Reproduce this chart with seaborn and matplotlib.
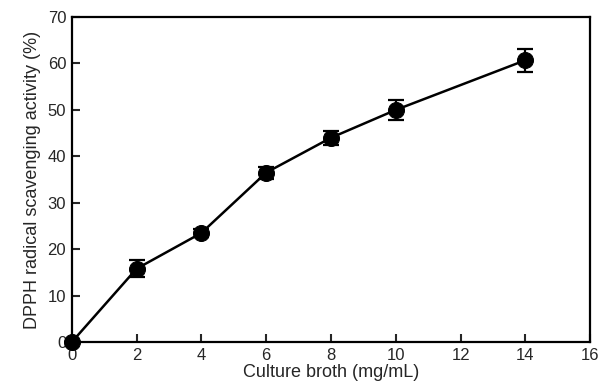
import matplotlib
matplotlib.use("Agg")
import matplotlib.pyplot as plt
import seaborn as sns
import pandas as pd

concentration = [0, 2, 4, 6, 8, 10, 14]
activity = [0.0, 15.8, 23.5, 36.5, 44.0, 50.0, 60.7]
error = [0.0, 1.8, 0.8, 1.3, 1.5, 2.1, 2.5]

x_ticks = [0, 2, 4, 6, 8, 10, 12, 14, 16]
y_ticks = [0, 10, 20, 30, 40, 50, 60, 70]

sns.set_style("ticks")
plt.rcParams['font.family'] = ['Liberation Sans', 'DejaVu Sans']

df = pd.DataFrame({"conc": concentration, "act": activity, "err": error})

fig = plt.figure(figsize=(5.98, 3.87), dpi=100)
ax = fig.add_axes([0.120, 0.116, 0.867, 0.840])

ax.errorbar(df["conc"], df["act"], yerr=df["err"], fmt="none", ecolor="black",
            elinewidth=1.6, capsize=6, capthick=1.6, zorder=3, clip_on=False)
sns.lineplot(data=df, x="conc", y="act", ax=ax, color="black", linewidth=1.8,
             marker="o", markersize=11.5, markeredgecolor="black",
             markerfacecolor="black", zorder=4, clip_on=False)

ax.set_xlim(0, 16)
ax.set_ylim(0, 70)
ax.set_xticks(x_ticks)
ax.set_yticks(y_ticks)
ax.tick_params(direction="in", length=6, width=1.5, labelsize=12, top=False, right=False, pad=4)
for s in ax.spines.values():
    s.set_linewidth(1.6)
    s.set_color("black")
ax.set_xlabel("Culture broth (mg/mL)", fontsize=13, labelpad=1)
ax.set_ylabel("DPPH radical scavenging activity (%)", fontsize=13, labelpad=5)

fig.savefig("out.png", dpi=100)
